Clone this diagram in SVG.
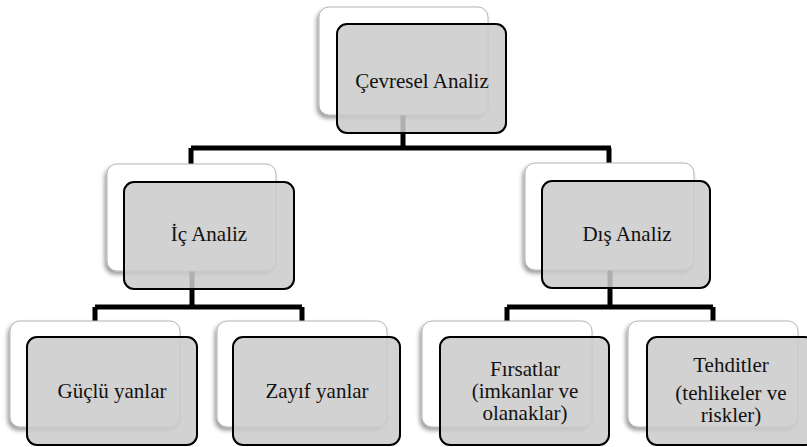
<svg xmlns="http://www.w3.org/2000/svg" width="807" height="447" viewBox="0 0 807 447">
  <defs>
    <filter id="shadow" x="-10%" y="-10%" width="120%" height="125%">
      <feDropShadow dx="-2" dy="3" stdDeviation="2" flood-color="#000" flood-opacity="0.4"/>
    </filter>
  </defs>
  <style>
    .back { fill: #ffffff; stroke: #b4b4b4; stroke-width: 1; filter: url(#shadow); }
    .front { fill: #cbcbcb; fill-opacity: 0.86; stroke: #000; stroke-width: 2; }
    .link { fill: none; stroke: #000; stroke-width: 5; stroke-linejoin: miter; }
    .label { font-family: 'Liberation Serif', 'Times New Roman', Times, serif; font-size: 21px; fill: #111; text-anchor: middle; }
  </style>
  <rect width="807" height="447" fill="#fff"/>

  <g id="connectors">
    <path class="link" d="M403,115 V148 M191,148 H611 M191,148 V165 M609,148 V164"/>
    <path class="link" d="M192,271 V307 M95,307 H302 M95,307 V322 M302,307 V322"/>
    <path class="link" d="M610,270 V307 M507,307 H713 M507,307 V322 M713,307 V322"/>
  </g>

  <g id="cevresel-analiz">
    <rect class="back" x="319" y="7" width="169" height="108" rx="10"/>
    <rect class="front" x="337" y="24" width="169" height="109" rx="10"/>
    <text class="label" font-family="Liberation Serif" x="422" y="88">Çevresel Analiz</text>
  </g>

  <g id="ic-analiz">
    <rect class="back" x="107" y="164" width="169" height="107" rx="10"/>
    <rect class="front" x="124" y="182" width="170" height="107" rx="10"/>
    <text class="label" font-family="Liberation Serif" x="209" y="241">İç Analiz</text>
  </g>

  <g id="dis-analiz">
    <rect class="back" x="525" y="163" width="169" height="107" rx="10"/>
    <rect class="front" x="542" y="181" width="168" height="107" rx="10"/>
    <text class="label" font-family="Liberation Serif" x="627" y="241">Dış Analiz</text>
  </g>

  <g id="guclu-yanlar">
    <rect class="back" x="10" y="321" width="170" height="106" rx="10"/>
    <rect class="front" x="27" y="337" width="170" height="108" rx="10"/>
    <text class="label" font-family="Liberation Serif" x="112" y="398">Güçlü yanlar</text>
  </g>

  <g id="zayif-yanlar">
    <rect class="back" x="217" y="321" width="170" height="106" rx="10"/>
    <rect class="front" x="233" y="337" width="167" height="108" rx="10"/>
    <text class="label" font-family="Liberation Serif" x="317" y="398">Zayıf yanlar</text>
  </g>

  <g id="firsatlar">
    <rect class="back" x="422" y="321" width="170" height="106" rx="10"/>
    <rect class="front" x="440" y="337" width="169" height="108" rx="10"/>
    <text class="label" font-family="Liberation Serif" x="525" y="376">Fırsatlar</text>
    <text class="label" font-family="Liberation Serif" x="525" y="398">(imkanlar ve</text>
    <text class="label" font-family="Liberation Serif" x="525" y="420">olanaklar)</text>
  </g>

  <g id="tehditler">
    <rect class="back" x="628" y="321" width="170" height="106" rx="10"/>
    <rect class="front" x="647" y="337" width="168" height="108" rx="10"/>
    <text class="label" font-family="Liberation Serif" x="731" y="372">Tehditler</text>
    <text class="label" font-family="Liberation Serif" x="731" y="400">(tehlikeler ve</text>
    <text class="label" font-family="Liberation Serif" x="731" y="422">riskler)</text>
  </g>
</svg>
